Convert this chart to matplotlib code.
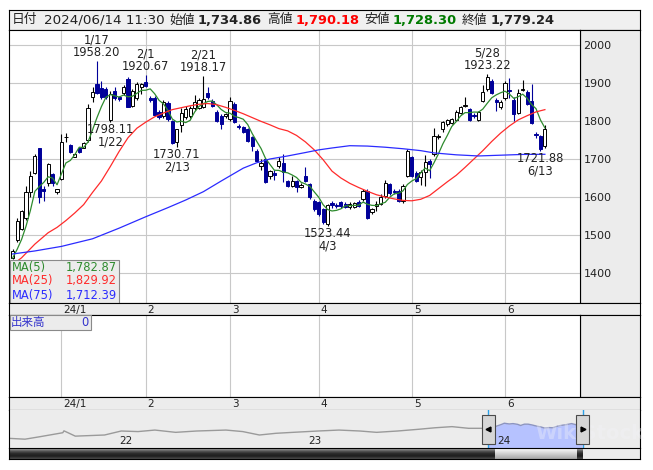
import numpy as np
import pandas as pd
import matplotlib
matplotlib.use('Agg')
import matplotlib.pyplot as plt
from matplotlib.patches import Rectangle
from matplotlib.colors import LinearSegmentedColormap

plt.rcParams['font.family'] = ['DejaVu Sans', 'Noto Sans CJK JP']

W, H = 653, 470

########################  valeurs  ########################

# bougies journalières, du 15/12/2023 (indice 0) au 14/06/2024 (indice 120)
opens = [1440, 1488, 1516, 1545, 1612, 1664, 1728, 1620, 1636, 1660,
         1612, 1648, 1757, 1737, 1706, 1728, 1730, 1750, 1864, 1897,
         1886, 1885, 1802, 1880, 1862, 1873, 1910, 1840, 1860, 1890,
         1903, 1860, 1860, 1824, 1812, 1848, 1801, 1745, 1790, 1810,
         1814, 1833, 1834, 1838, 1875, 1853, 1823, 1814, 1812, 1805,
         1845, 1788, 1783, 1779, 1757, 1722, 1681, 1700, 1656, 1662,
         1681, 1690, 1641, 1630, 1643, 1627, 1656, 1634, 1590, 1586,
         1568, 1529, 1584, 1578, 1586, 1582, 1573, 1574, 1588, 1595,
         1617, 1560, 1577, 1582, 1603, 1634, 1616, 1617, 1590, 1656,
         1704, 1663, 1652, 1665, 1696, 1713, 1758, 1779, 1792, 1796,
         1803, 1821, 1839, 1832, 1816, 1803, 1853, 1884, 1906, 1855,
         1836, 1860, 1882, 1856, 1821, 1882, 1877, 1853, 1765, 1760,
         1734.86]
highs = [1462, 1545, 1566, 1628, 1668, 1712, 1730, 1628, 1690, 1662,
         1622, 1765, 1768, 1740, 1716, 1732, 1745, 1845, 1890, 1958.20,
         1905, 1890, 1878, 1890, 1866, 1895, 1915, 1885, 1902, 1900,
         1920.67, 1867, 1866, 1828, 1856, 1852, 1803, 1780, 1833, 1840,
         1840, 1868, 1860, 1918.17, 1889, 1858, 1830, 1818, 1822, 1862,
         1850, 1793, 1786, 1782, 1760, 1725, 1700, 1703, 1672, 1670,
         1704, 1712, 1645, 1656, 1646, 1636, 1678, 1638, 1594, 1590,
         1570, 1582, 1590, 1584, 1590, 1586, 1586, 1588, 1592, 1620,
         1620, 1572, 1590, 1608, 1645, 1638, 1622, 1622, 1635, 1726,
         1708, 1668, 1670, 1710, 1700, 1781, 1766, 1800, 1806, 1808,
         1828, 1840, 1862, 1835, 1820, 1826, 1895, 1923.22, 1910, 1860,
         1856, 1906, 1912, 1862, 1884, 1909, 1882, 1897, 1770, 1764,
         1790.18]
lows = [1436, 1482, 1512, 1540, 1600, 1660, 1585, 1590, 1630, 1628,
        1608, 1645, 1745, 1715, 1704, 1715, 1728, 1745, 1850, 1870,
        1858, 1858, 1798.11, 1855, 1852, 1868, 1836, 1836, 1856, 1872,
        1890, 1850, 1812, 1806, 1808, 1800, 1740, 1730.71, 1772, 1806,
        1808, 1828, 1832, 1834, 1858, 1836, 1798, 1779, 1808, 1800,
        1795, 1780, 1768, 1745, 1722, 1693, 1672, 1638, 1648, 1645,
        1676, 1640, 1627, 1626, 1612, 1624, 1640, 1596, 1562, 1550,
        1530, 1523.44, 1572, 1570, 1572, 1570, 1568, 1570, 1574, 1590,
        1542, 1555, 1562, 1578, 1598, 1606, 1608, 1586, 1585, 1652,
        1652, 1640, 1632, 1630, 1650, 1708, 1752, 1770, 1788, 1792,
        1800, 1818, 1836, 1800, 1808, 1800, 1850, 1880, 1872, 1827,
        1832, 1856, 1860, 1801, 1818, 1878, 1842, 1793, 1756, 1721.88,
        1728.30]
closes = [1458, 1538, 1562, 1612, 1655, 1708, 1600, 1617, 1686, 1638,
          1620, 1745, 1759, 1719, 1714, 1718, 1741, 1834, 1876, 1875,
          1863, 1862, 1872, 1860, 1858, 1890, 1838, 1880, 1898, 1897,
          1892, 1856, 1816, 1811, 1851, 1805, 1742, 1778, 1822, 1832,
          1834, 1850, 1854, 1858, 1862, 1839, 1801, 1792, 1818, 1853,
          1797, 1785, 1770, 1748, 1735, 1696, 1689, 1640, 1669, 1658,
          1694, 1667, 1630, 1641, 1625, 1632, 1643, 1599, 1568, 1555,
          1533, 1580, 1580, 1576, 1575, 1573, 1582, 1584, 1577, 1617,
          1544, 1568, 1582, 1599, 1637, 1610, 1613, 1590, 1630, 1722,
          1656, 1643, 1667, 1693, 1687, 1761, 1761, 1798, 1803, 1805,
          1825, 1836, 1841, 1803, 1813, 1823, 1877, 1917, 1875, 1851,
          1851, 1899, 1878, 1818, 1874, 1884, 1845, 1796, 1763, 1726,
          1779.24]
closes_before = [1425, 1432, 1438, 1445]   # 4 clôtures avant le 15/12 (MA5)

# moyennes mobiles 25 et 75 jours (relevées)
ma25_x = [0, 2, 5, 8, 10, 12, 14, 16, 18, 20, 22, 24, 26, 28, 30, 32, 34, 36,
          38, 40, 42, 44, 46, 48, 50, 52, 54, 56, 58, 60, 62, 64, 66, 68, 70,
          72, 74, 76, 78, 80, 82, 84, 86, 88, 90, 92, 94, 96, 98, 100, 102,
          104, 106, 108, 110, 112, 114, 116, 118, 120]
ma25 = [1422, 1440, 1476, 1506, 1520, 1538, 1558, 1580, 1612, 1642, 1680,
        1720, 1756, 1781, 1797, 1811, 1821, 1830, 1835, 1840, 1844, 1846,
        1843, 1836, 1828, 1819, 1809, 1799, 1790, 1780, 1774, 1762, 1745,
        1724, 1698, 1668, 1650, 1636, 1625, 1615, 1606, 1600, 1595, 1591,
        1590, 1594, 1604, 1622, 1640, 1657, 1678, 1700, 1722, 1746, 1768,
        1787, 1803, 1814, 1824, 1829.92]
ma75_x = [0, 5, 11, 18, 24, 30, 35, 39, 43, 47, 52, 55, 58, 62, 66, 69, 72,
          76, 80, 84, 88, 92, 95, 100, 105, 110, 115, 120]
ma75 = [1450, 1458, 1470, 1490, 1518, 1548, 1572, 1592, 1614, 1642, 1676,
        1690, 1700, 1708, 1717, 1724, 1729, 1735, 1734, 1731, 1727, 1722,
        1716, 1711, 1708, 1710, 1712, 1712.39]

month_start = [11, 30, 49, 69, 90, 111]
month_labels = ['24/1', '2', '3', '4', '5', '6']
price_ticks = [1400, 1500, 1600, 1700, 1800, 1900, 2000]

peaks = [(19, 1958.20, '1/17'), (30, 1920.67, '2/1'),
         (43, 1918.17, '2/21'), (107, 1923.22, '5/28')]
troughs = [(22, 1798.11, '1/22'), (37, 1730.71, '2/13'),
           (71, 1523.44, '4/3'), (119, 1721.88, '6/13')]

header_date = '2024/06/14 11:30'
header_labels = ['始値', '高値', '安値', '終値']
header_values = [1734.86, 1790.18, 1728.30, 1779.24]
header_colors = ['#222222', '#ff0000', '#007a00', '#222222']

ma_names = ['MA(5)', 'MA(25)', 'MA(75)']
ma_last = [1782.87, 1829.92, 1712.39]
ma_colors = ['#2e8b2e', '#ff2b2b', '#2b2bff']

volume_label = '出来高'
volume_last = 0

# navigateur (courbe longue, niveau relatif 0-100)
nav_x = [2021.431, 2021.508, 2021.587, 2021.708, 2021.714, 2021.774,
         2021.929, 2022.017, 2022.106, 2022.195, 2022.305, 2022.416,
         2022.571, 2022.660, 2022.748, 2022.836, 2022.926, 2023.058,
         2023.169, 2023.280, 2023.368, 2023.479, 2023.589, 2023.677,
         2023.767, 2023.855, 2023.921, 2023.958, 2023.985, 2024.010,
         2024.030, 2024.044, 2024.070, 2024.090, 2024.115, 2024.130,
         2024.150, 2024.170, 2024.190, 2024.210, 2024.235, 2024.255,
         2024.280, 2024.300, 2024.320, 2024.340, 2024.370, 2024.400,
         2024.420, 2024.440, 2024.455]
nav_y = [26, 24, 30.5, 41, 46, 32, 35, 45.5, 44, 48, 42, 45.5, 48, 44, 35,
         39.5, 42, 45.5, 48, 45.5, 42, 45.5, 50, 54, 57, 52.6, 52.6, 51,
         55.5, 59.5, 63, 66, 64, 65, 63, 60, 63.5, 63.5, 61.5, 59, 56.5,
         53.5, 54.5, 54, 57.5, 60, 62, 65, 62.5, 59.5, 61.5]
nav_years = [2022, 2023, 2024]
nav_year_labels = ['22', '23', '24']
selection = (2023.958, 2024.458)

#############################  mise en page  #############################

X0, STEP = 12.7, 4.435            # pixel de la 1re bougie, pas entre bougies
px_to_i = lambda px: (px - X0) / STEP
PPY = 189.0                        # pixels par année dans le navigateur
px_to_year = lambda px: 2022 + (px - 118) / PPY

fig = plt.figure(figsize=(W / 100, H / 100), dpi=100)


def panel(x0, y0, x1, y1, fc='#ececec'):
    """axes placé en pixels de l'image (origine en haut à gauche)"""
    a = fig.add_axes([x0 / W, 1 - y1 / H, (x1 - x0) / W, (y1 - y0) / H], facecolor=fc)
    a.set_xticks([])
    a.set_yticks([])
    for s in a.spines.values():
        s.set_linewidth(0.8)
        s.set_color('black')
    return a


# bandeau du haut
head = panel(9, 10, 640, 30, fc='#f0f0f0')
t = head.text((12 - 9) / 631, 0.5, '日付', transform=head.transAxes,
              va='center', fontsize=9.2, color='#222222')
t = head.annotate(header_date, xy=(1, 0.5), xycoords=t, xytext=(6, 0),
                  textcoords='offset pixels', va='center', fontsize=9.7, color='#222222')
for lab, val, col in zip(header_labels, header_values, header_colors):
    t = head.annotate(lab, xy=(1, 0.5), xycoords=t, xytext=(5, 0),
                      textcoords='offset pixels', va='center', fontsize=9.2, color='#222222')
    t = head.annotate(f'{val:,.2f}', xy=(1, 0.5), xycoords=t, xytext=(3, 0),
                      textcoords='offset pixels', va='center', fontsize=9.4,
                      fontweight='bold', color=col)

# graphique des cours
panel(580, 30, 640, 302.7)
ax = panel(9, 30, 580, 302.7, fc='white')
ax.set_xlim(px_to_i(9), px_to_i(580))
ax.set_ylim(1321.8, 2039.5)
ax.set_xticks(month_start)
ax.set_yticks(price_ticks)
ax.yaxis.tick_right()
ax.tick_params(length=0, labelsize=8, pad=2.5, labelcolor='#222222', labelbottom=False)
ax.grid(color='#c8c8c8', lw=0.8)
ax.set_axisbelow(True)

x = np.arange(len(closes))
o, h, l, c = map(np.array, (opens, highs, lows, closes))
up = c >= o
body = np.maximum(np.abs(c - o), 1.5)
bottom = np.minimum(o, c)
ax.vlines(x[up], l[up], h[up], color='black', lw=0.8, zorder=2)
ax.vlines(x[~up], l[~up], h[~up], color='#000099', lw=0.8, zorder=2)
ax.bar(x[up], body[up], bottom=bottom[up], width=0.72, color='white',
       edgecolor='black', lw=0.7, zorder=3)
ax.bar(x[~up], body[~up], bottom=bottom[~up], width=0.72, color='#000099',
       edgecolor='#000099', lw=0.7, zorder=3)

ma5 = pd.Series(closes_before + closes).rolling(5).mean().to_numpy()[4:]
ax.plot(x, ma5, color=ma_colors[0], lw=0.9, zorder=4)
ax.plot(ma25_x, ma25, color=ma_colors[1], lw=0.9, zorder=4)
ax.plot(ma75_x, ma75, color=ma_colors[2], lw=0.9, zorder=4)

for i, v, d in peaks:
    ax.annotate(f'{d}\n{v:.2f}', xy=(i, v), xytext=(0, 2), textcoords='offset pixels',
                ha='center', va='bottom', multialignment='center', fontsize=8.3,
                linespacing=0.95, color='#222222', zorder=5)
for i, v, d in troughs:
    ax.annotate(f'{v:.2f}\n{d}', xy=(i, v), xytext=(0, -1), textcoords='offset pixels',
                ha='center', va='top', multialignment='center', fontsize=8.3,
                linespacing=0.95, color='#222222', zorder=5)

# légende des moyennes mobiles
ax.add_patch(Rectangle((1 / 571, 0), 109 / 571, 0.1566, transform=ax.transAxes,
                       fc='#ececec', ec='#8a8a8a', lw=0.8, zorder=6))
for k, (name, val, col) in enumerate(zip(ma_names, ma_last, ma_colors)):
    yy = [0.1298, 0.0807, 0.0282][k]
    ax.text(3 / 571, yy, name, transform=ax.transAxes, va='center', fontsize=8.3,
            color=col, zorder=7)
    ax.text(108 / 571, yy, f'{val:,.2f}', transform=ax.transAxes, va='center',
            ha='right', fontsize=8.3, color=col, zorder=7)

# bandes des dates
def date_strip(y0, y1):
    s = panel(9, y0, 640, y1)
    s.set_xlim(px_to_i(9), px_to_i(640))
    s.set_ylim(0, 1)
    for m, lab in zip(month_start, month_labels):
        s.text(m + 0.45, 0.45, lab, fontsize=7.5, va='center', ha='left', color='#222222')
    return s


date_strip(302.7, 315.3)

# volume (vide)
panel(580, 315.3, 640, 397.3)
vol = panel(9, 315.3, 580, 397.3, fc='white')
vol.set_xlim(px_to_i(9), px_to_i(580))
vol.set_ylim(0, 1)
vol.set_xticks(month_start)
vol.tick_params(length=0, labelbottom=False)
vol.grid(axis='x', color='#c8c8c8', lw=0.8)
vol.add_patch(Rectangle((1 / 571, 0.82), 81 / 571, 0.18, transform=vol.transAxes,
                        fc='#ececec', ec='#8a8a8a', lw=0.8, zorder=5))
vol.text(2 / 571, 0.91, volume_label, transform=vol.transAxes, va='center',
         fontsize=8.3, color='#3333cc', zorder=6)
vol.text(80 / 571, 0.91, str(volume_last), transform=vol.transAxes, va='center',
         ha='right', fontsize=8.3, color='#3333cc', zorder=6)

date_strip(397.3, 410.3)

# navigateur
nav = panel(9, 410.3, 640, 448.3)
nav.spines['top'].set_visible(False)
nav.spines['bottom'].set_visible(False)
nav.set_xlim(px_to_year(9), px_to_year(640))
nav.set_ylim(0, 100)
nx, ny = np.array(nav_x), np.array(nav_y)
sel = nx >= selection[0]
nav.fill_between(nx[sel], 0, ny[sel], color='#b6c2ff', lw=0, zorder=1)
nav.plot(nx[nx <= selection[0]], ny[nx <= selection[0]], color='#9a9a9a', lw=1.0, zorder=2)
nav.plot(nx[sel], ny[sel], color='#8c94c0', lw=1.0, zorder=2)
for yr, lab in zip(nav_years, nav_year_labels):
    nav.text(yr + 1 / PPY, 20, lab, fontsize=7.5, va='center', ha='left', color='#222222', zorder=3)
nav.text(px_to_year(535), 40, 'WikiStock', fontsize=14, fontweight='bold',
         color='#f4f4f8', alpha=0.35, va='center', ha='left', zorder=3)
for xs in selection:
    nav.axvline(xs, color='#2aa0e8', lw=1, zorder=3)
hw = 6.5 / PPY
for xs, mk in zip(selection, ['<', '>']):
    nav.add_patch(Rectangle((xs - hw, 11.3), 2 * hw, 76.3, fc='#d6d6d6',
                            ec='#4a4a4a', lw=0.8, zorder=4))
    nav.plot(xs, 49.5, marker=mk, ms=3.5, color='black', zorder=5)

# barre de défilement
sb = panel(9, 448.3, 640, 459.3)
grad = np.linspace(0, 1, 20).reshape(-1, 1)
dark = LinearSegmentedColormap.from_list('dark', ['#b4b4b4', '#5a5a5a', '#2a2a2a', '#1e1e1e', '#4a4a4a'])
light = LinearSegmentedColormap.from_list('light', ['#fbfbfb', '#e2e2e2', '#c4c4c4', '#a8a8a8'])
sb.imshow(grad, cmap=dark, aspect='auto', extent=(px_to_year(9), selection[1], 0, 1), zorder=1)
sb.imshow(grad, cmap=light, aspect='auto',
          extent=(selection[0] + hw, selection[1] - hw, 0, 1), zorder=2)
sb.set_xlim(px_to_year(9), px_to_year(640))
sb.set_ylim(0, 1)

plt.savefig('out.png', dpi=100)
